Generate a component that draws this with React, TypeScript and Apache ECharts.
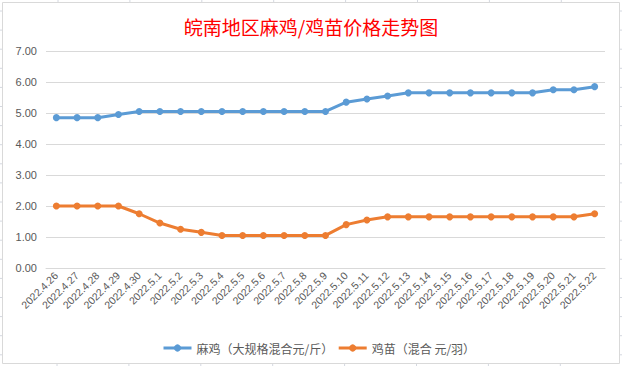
import React, { useEffect, useRef } from "react";
import * as echarts from "echarts";

const categories = [
  "2022.4.26", "2022.4.27", "2022.4.28", "2022.4.29", "2022.4.30",
  "2022.5.1", "2022.5.2", "2022.5.3", "2022.5.4", "2022.5.5", "2022.5.6",
  "2022.5.7", "2022.5.8", "2022.5.9", "2022.5.10", "2022.5.11", "2022.5.12",
  "2022.5.13", "2022.5.14", "2022.5.15", "2022.5.16", "2022.5.17", "2022.5.18",
  "2022.5.19", "2022.5.20", "2022.5.21", "2022.5.22",
];

const majiValues = [
  4.85, 4.85, 4.85, 4.95, 5.05, 5.05, 5.05, 5.05, 5.05, 5.05, 5.05, 5.05, 5.05, 5.05,
  5.35, 5.45, 5.55, 5.65, 5.65, 5.65, 5.65, 5.65, 5.65, 5.65, 5.75, 5.75, 5.85,
];

const jimiaoValues = [
  2.0, 2.0, 2.0, 2.0, 1.75, 1.45, 1.25, 1.15, 1.05, 1.05, 1.05, 1.05, 1.05, 1.05,
  1.4, 1.55, 1.65, 1.65, 1.65, 1.65, 1.65, 1.65, 1.65, 1.65, 1.65, 1.65, 1.75,
];

const seriesNames = ["麻鸡（大规格混合元/斤）", "鸡苗（混合 元/羽）"];
const titleText = "皖南地区麻鸡/鸡苗价格走势图";

export default function App() {
  const ref = useRef<HTMLDivElement>(null);

  useEffect(() => {
    document.body.style.margin = "0";
    const chart = echarts.init(ref.current!, null, { renderer: "svg" });

    const sheetLines: any[] = [];
    const lineStyle = { stroke: "#D4D8E0", lineWidth: 1 };
    for (let i = 0; i < 8; i++) {
      const x = 58 + i * 71.9;
      sheetLines.push({ type: "line", shape: { x1: x, y1: 0, x2: x, y2: 2 }, style: lineStyle, silent: true });
      sheetLines.push({ type: "line", shape: { x1: x - 1, y1: 364, x2: x - 1, y2: 366 }, style: lineStyle, silent: true });
    }
    for (let i = 0; i < 19; i++) {
      const y = 11 + i * 19.1;
      sheetLines.push({ type: "line", shape: { x1: 0, y1: y, x2: 2, y2: y }, style: lineStyle, silent: true });
      sheetLines.push({ type: "line", shape: { x1: 620, y1: y, x2: 622, y2: y }, style: lineStyle, silent: true });
    }

    chart.setOption({
      animation: false,
      backgroundColor: "#ffffff",
      title: {
        text: titleText,
        left: "center",
        top: 12,
        textStyle: {
          color: "#FF0000",
          fontSize: 19,
          fontWeight: "normal",
          fontFamily: "Noto Sans CJK SC",
        },
      },
      graphic: [
        {
          type: "rect",
          shape: { x: 2.5, y: 2.5, width: 617, height: 361 },
          style: { fill: "none", stroke: "#D9D9D9", lineWidth: 1 },
          silent: true,
        },
        ...sheetLines,
      ],
      legend: {
        data: seriesNames,
        left: 157,
        top: 337,
        itemWidth: 28,
        itemHeight: 9,
        itemGap: 4,
        lineStyle: { width: 3 },
        itemStyle: { borderWidth: 0 },
        textStyle: {
          color: "#595959",
          fontSize: 12,
          fontFamily: "Noto Sans CJK SC",
        },
      },
      grid: { left: 46, right: 17, top: 51, bottom: 98 },
      xAxis: {
        type: "category",
        data: categories,
        boundaryGap: true,
        axisLine: { show: true, lineStyle: { color: "#D9D9D9" } },
        axisTick: { show: false },
        axisLabel: {
          rotate: 45,
          interval: 0,
          margin: 6,
          color: "#595959",
          fontSize: 10.5,
          fontFamily: "Liberation Sans",
        },
      },
      yAxis: {
        type: "value",
        min: 0,
        max: 7,
        interval: 1,
        axisLine: { show: false },
        axisTick: { show: false },
        splitLine: { lineStyle: { color: "#D9D9D9" } },
        axisLabel: {
          margin: 9,
          color: "#595959",
          fontSize: 11,
          fontFamily: "Liberation Sans",
          formatter: (v: number) => v.toFixed(2),
        },
      },
      series: [
        {
          name: seriesNames[0],
          type: "line",
          data: majiValues,
          color: "#5B9BD5",
          symbol: "circle",
          symbolSize: 7,
          lineStyle: { width: 3 },
        },
        {
          name: seriesNames[1],
          type: "line",
          data: jimiaoValues,
          color: "#ED7D31",
          symbol: "circle",
          symbolSize: 7,
          lineStyle: { width: 3 },
        },
      ],
    });

    return () => chart.dispose();
  }, []);

  return (
    <div
      ref={ref}
      style={{ position: "absolute", left: 0, top: 0, width: 622, height: 366 }}
    />
  );
}
